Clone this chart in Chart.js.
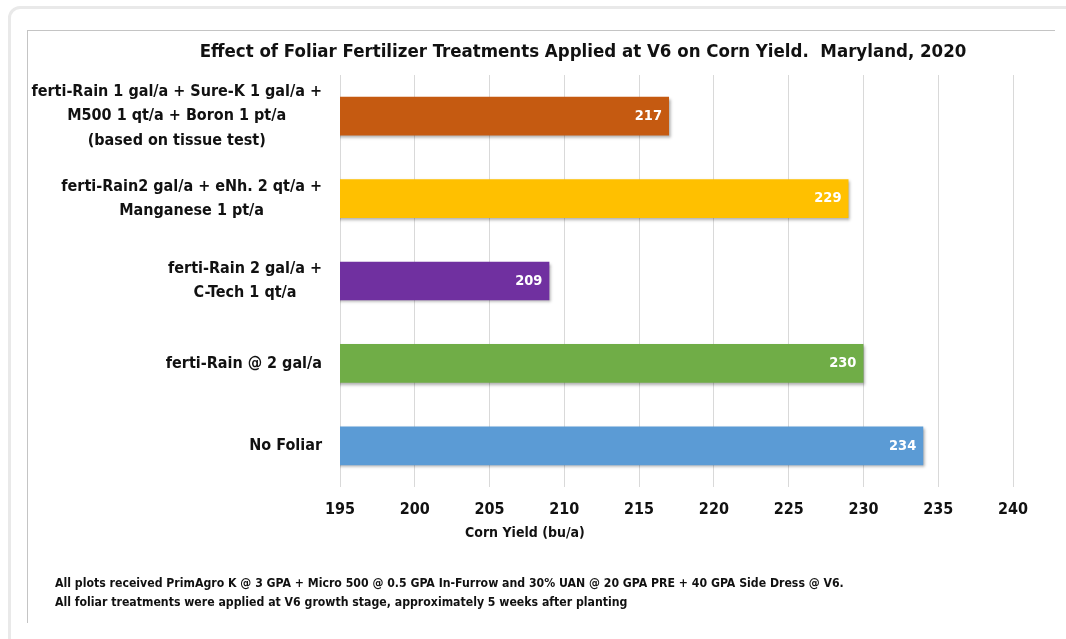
<!DOCTYPE html>
<html>
<head>
<meta charset="utf-8">
<script src="https://cdn.jsdelivr.net/npm/chart.js@4.4.1/dist/chart.umd.min.js"></script>
<style>
body{margin:0;background:#fff;}
#wrap{position:relative;width:1066px;height:639px;overflow:hidden;background:#fff;}
#outer{position:absolute;left:8px;top:6px;width:1080px;height:660px;border:3px solid #e9e9e9;border-radius:12px;}
#inner{position:absolute;left:27px;top:30px;width:1027px;height:592px;border-top:1px solid #c4c4c4;border-left:1px solid #c4c4c4;}
canvas{position:absolute;left:0;top:0;}
#title{position:absolute;left:183px;width:800px;top:40px;text-align:center;font:bold 18.5px "DejaVu Sans Condensed",sans-serif;color:#111;white-space:pre;}
.note{position:absolute;left:55px;font:bold 12.2px "DejaVu Sans Condensed",sans-serif;color:#111;white-space:nowrap;}
#xtitle{position:absolute;left:465px;top:524px;font:bold 14px "DejaVu Sans Condensed",sans-serif;color:#111;}
</style>
</head>
<body>
<div id="wrap">
<div id="outer"></div>
<div id="inner"></div>
<canvas id="chart" width="1066" height="639"></canvas>
<div id="title">Effect of Foliar Fertilizer Treatments Applied at V6 on Corn Yield.  Maryland, 2020</div>
<div id="xtitle">Corn Yield (bu/a)</div>
<div class="note" style="top:576px">All plots received PrimAgro K @ 3 GPA + Micro 500 @ 0.5 GPA In-Furrow and 30% UAN @ 20 GPA PRE + 40 GPA Side Dress @ V6.</div>
<div class="note" style="top:595px">All foliar treatments were applied at V6 growth stage, approximately 5 weeks after planting</div>
</div>
<script>

/* DATA */

let treatments = [
["ferti-Rain 1 gal/a + Sure-K 1 gal/a +","M500 1 qt/a + Boron 1 pt/a","(based on tissue test)"],
["ferti-Rain2 gal/a + eNh. 2 qt/a +","Manganese 1 pt/a"],
["ferti-Rain 2 gal/a +","C-Tech 1 qt/a"],
["ferti-Rain @ 2 gal/a"],
["No Foliar"]
];

let yields = [217,229,209,230,234];

let barColors = ["#c55a11","#ffc000","#7030a0","#70ad47","#5b9bd5"];

let xTicks = [195,200,205,210,215,220,225,230,235,240];

let FONT = '"DejaVu Sans Condensed",sans-serif';


/* PLUGINS */

let barShadow = {
id:"barShadow",
beforeDatasetsDraw(chart){
let ctx = chart.ctx;
ctx.save();
ctx.shadowColor = "rgba(0,0,0,0.35)";
ctx.shadowBlur = 3;
ctx.shadowOffsetX = 2;
ctx.shadowOffsetY = 2;
},
afterDatasetsDraw(chart){
chart.ctx.restore();
}
};

let valueLabels = {
id:"valueLabels",
afterDatasetsDraw(chart){
let ctx = chart.ctx;
let meta = chart.getDatasetMeta(0);
ctx.save();
ctx.font = "bold 14.5px " + FONT;
ctx.fillStyle = "#fff";
ctx.textAlign = "right";
ctx.textBaseline = "middle";
meta.data.forEach((bar,i)=>{
ctx.fillText(yields[i], bar.x - 7, bar.y);
});
ctx.restore();
}
};

let categoryLabels = {
id:"categoryLabels",
afterDraw(chart){
let ctx = chart.ctx;
let y = chart.scales.y;
let right = chart.chartArea.left - 18;
let lh = 24.5;
ctx.save();
ctx.font = "bold 16px " + FONT;
ctx.fillStyle = "#111";
ctx.textAlign = "center";
ctx.textBaseline = "middle";
treatments.forEach((lines,i)=>{
let w = Math.max(...lines.map(l=>ctx.measureText(l).width));
let cx = right - w/2;
let cy = y.getPixelForTick(i);
let top = cy - (lines.length-1)*lh/2;
lines.forEach((l,k)=>{
ctx.fillText(l, cx, top + k*lh);
});
});
ctx.restore();
}
};


/* CHART */

new Chart(document.getElementById("chart"),{

type:"bar",

data:{
labels:treatments,
datasets:[{
data:yields,
backgroundColor:barColors,
borderWidth:0,
categoryPercentage:1,
barPercentage:0.47
}]
},

options:{
indexAxis:"y",
responsive:false,
animation:false,
devicePixelRatio:1,
layout:{padding:{left:28,right:53,top:75,bottom:92}},
plugins:{
legend:{display:false},
tooltip:{enabled:false},
title:{display:false}
},
scales:{
x:{
min:195,
max:240,
afterBuildTicks(scale){
scale.ticks = xTicks.map(v=>({value:v}));
},
afterFit(scale){ scale.height = 60; },
border:{display:false},
grid:{color:"#d9d9d9",drawTicks:false},
ticks:{color:"#111",padding:13,font:{family:FONT,size:16,weight:"bold"}}
},
y:{
afterFit(scale){ scale.width = 312; },
border:{display:false},
grid:{display:false},
ticks:{display:false}
}
}
},

plugins:[barShadow,valueLabels,categoryLabels]

});

</script>
</body>
</html>
